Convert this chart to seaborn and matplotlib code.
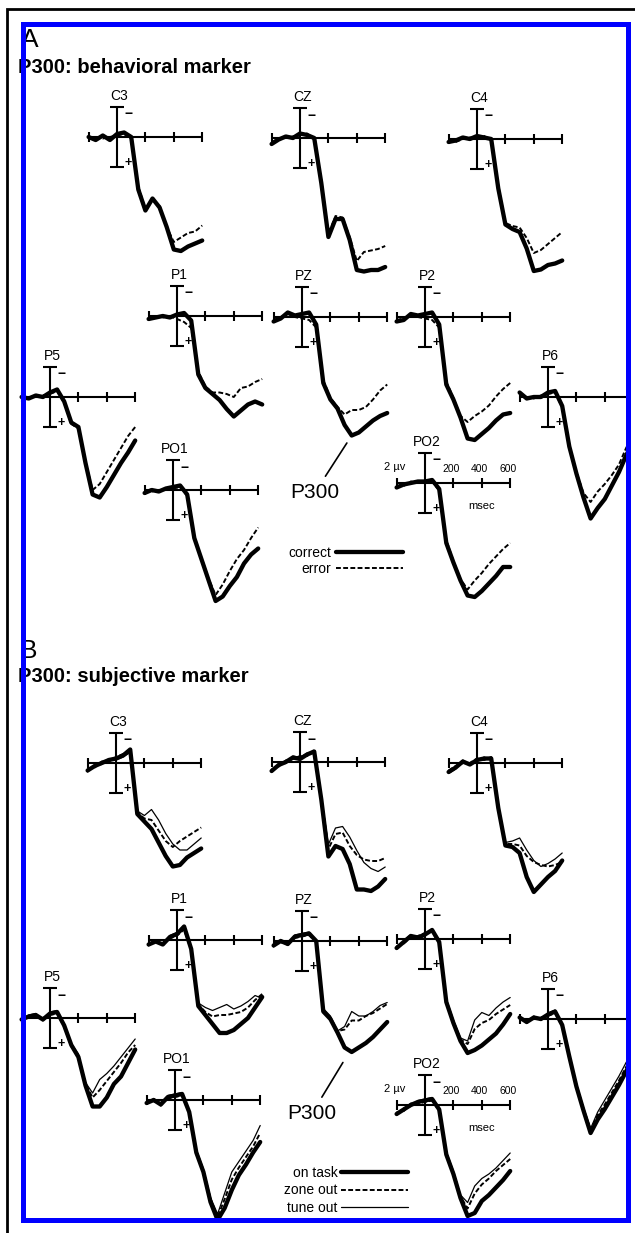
import matplotlib
matplotlib.use('Agg')
import matplotlib.pyplot as plt
from matplotlib.patches import Rectangle
import seaborn as sns

# time base of every ERP trace (ms) and the scale-cross ticks
TIME_MS = [-200, -150, -100, -50, 0, 50, 100, 150, 200, 250, 300, 350, 400, 450, 500, 550, 600]
AXIS_TICKS_MS = [-200, 200, 400, 600]
TICK_LABELS = ['200', '400', '600']
SCALE_UV = 2

ELECTRODES = ['C3', 'CZ', 'C4', 'P1', 'PZ', 'P2', 'P5', 'P6', 'PO1', 'PO2']

# panel A: behavioral marker (µV, positive plotted downward)
behav_correct = {
    'C3':  [0.0, 0.2, -0.1, 0.2, -0.2, -0.3, 0.0, 3.5, 4.9, 4.1, 4.7, 6.0, 7.5, 7.6, 7.3, 7.1, 6.9],
    'CZ':  [0.4, 0.1, -0.1, 0.0, -0.3, -0.2, 0.0, 3.0, 6.6, 5.4, 5.4, 6.8, 8.8, 8.9, 8.8, 8.8, 8.6],
    'C4':  [0.2, 0.1, -0.1, 0.0, -0.2, -0.1, 0.0, 3.3, 5.7, 6.0, 6.2, 7.3, 8.8, 8.7, 8.4, 8.3, 8.1],
    'P1':  [0.2, 0.1, 0.0, 0.1, -0.1, -0.2, 0.3, 3.9, 4.8, 5.2, 5.6, 6.2, 6.7, 6.3, 5.9, 5.7, 5.9],
    'PZ':  [0.3, 0.1, -0.3, -0.1, -0.2, -0.3, 0.5, 4.4, 5.5, 6.1, 7.2, 7.9, 7.7, 7.3, 6.9, 6.6, 6.4],
    'P2':  [0.3, 0.2, -0.2, -0.1, -0.2, -0.3, 0.5, 4.5, 5.5, 6.7, 8.1, 8.2, 7.8, 7.4, 6.9, 6.5, 6.4],
    'P5':  [0.0, 0.1, -0.1, 0.0, -0.3, -0.5, 0.3, 1.7, 2.0, 4.4, 6.5, 6.7, 6.0, 5.2, 4.4, 3.7, 2.9],
    'P6':  [-0.3, 0.1, 0.0, 0.0, -0.3, -0.4, 0.6, 3.3, 5.1, 6.7, 8.1, 7.4, 6.8, 5.9, 5.0, 3.9, 3.0],
    'PO1': [0.2, 0.0, 0.1, -0.1, -0.2, -0.3, 0.3, 3.2, 4.6, 6.0, 7.4, 7.1, 6.4, 5.8, 4.9, 4.3, 3.9],
    'PO2': [0.3, 0.1, 0.0, -0.1, -0.1, -0.2, 0.4, 4.0, 5.3, 6.5, 7.5, 7.6, 7.2, 6.7, 6.2, 5.6, 5.6],
}
behav_error = {
    'C3':  [0.1, 0.0, 0.1, 0.0, -0.1, -0.2, 0.1, 3.3, 4.8, 4.2, 4.6, 6.0, 7.0, 6.7, 6.4, 6.3, 5.9],
    'CZ':  [0.3, 0.0, 0.0, -0.1, -0.2, -0.3, 0.1, 2.8, 6.4, 5.2, 5.3, 6.6, 8.2, 7.6, 7.5, 7.4, 7.2],
    'C4':  [0.1, 0.2, 0.0, -0.1, -0.1, -0.2, 0.1, 3.1, 5.6, 5.8, 5.9, 6.6, 7.6, 7.4, 7.0, 6.6, 6.2],
    'P1':  [0.1, 0.0, 0.1, 0.0, 0.2, 0.4, 0.8, 3.7, 4.7, 5.1, 5.1, 5.2, 5.4, 4.8, 4.7, 4.4, 4.2],
    'PZ':  [0.2, 0.0, -0.2, 0.0, 0.1, 0.2, 0.7, 4.2, 5.4, 6.0, 6.5, 6.2, 6.2, 6.0, 5.5, 4.9, 4.5],
    'P2':  [0.2, 0.1, -0.1, 0.0, 0.1, 0.2, 0.7, 4.3, 5.4, 6.6, 7.0, 6.6, 6.3, 5.9, 5.3, 4.8, 4.4],
    'P5':  [0.1, 0.0, 0.0, -0.1, -0.2, -0.4, 0.4, 1.8, 2.1, 4.3, 6.2, 5.8, 5.0, 4.2, 3.4, 2.6, 2.0],
    'P6':  [-0.2, 0.0, 0.1, -0.1, -0.2, -0.3, 0.7, 3.2, 5.0, 6.4, 7.0, 6.3, 5.8, 5.2, 4.5, 3.4, 2.5],
    'PO1': [0.1, 0.1, 0.0, 0.0, -0.1, -0.2, 0.4, 3.1, 4.5, 5.9, 7.0, 6.3, 5.4, 4.6, 4.0, 3.2, 2.5],
    'PO2': [0.2, 0.2, -0.1, 0.0, 0.0, -0.1, 0.5, 3.8, 5.2, 6.4, 7.1, 6.5, 6.0, 5.4, 4.9, 4.4, 4.0],
}

# panel B: subjective marker
subj_on_task = {
    'C3':  [0.5, 0.2, 0.0, -0.2, -0.3, -0.5, -0.9, 3.4, 3.9, 4.4, 5.3, 6.2, 6.9, 6.8, 6.3, 6.0, 5.7],
    'CZ':  [0.6, 0.2, 0.0, -0.3, -0.2, -0.5, -0.7, 2.5, 6.3, 5.6, 5.8, 6.8, 8.5, 8.5, 8.6, 8.3, 7.8],
    'C4':  [0.6, 0.3, -0.1, 0.1, -0.2, -0.3, -0.3, 3.0, 5.5, 5.6, 6.0, 7.6, 8.6, 8.1, 7.6, 7.2, 6.5],
    'P1':  [0.3, 0.1, 0.3, -0.2, -0.4, -0.9, 0.6, 4.4, 5.0, 5.6, 6.2, 6.2, 6.0, 5.6, 5.2, 4.5, 3.8],
    'PZ':  [0.3, 0.0, 0.2, -0.3, -0.4, -0.5, 0.0, 4.7, 5.2, 6.1, 7.1, 7.4, 7.1, 6.8, 6.4, 5.9, 5.4],
    'P2':  [0.6, 0.2, -0.2, -0.1, -0.3, -0.6, 0.2, 4.2, 5.6, 6.8, 7.6, 7.4, 7.1, 6.7, 6.3, 5.7, 5.0],
    'P5':  [0.1, -0.1, -0.2, 0.1, -0.3, -0.4, 0.5, 1.8, 2.6, 4.5, 5.9, 5.9, 5.3, 4.4, 3.9, 3.0, 2.1],
    'P6':  [-0.1, 0.2, -0.1, 0.0, -0.3, -0.5, 0.4, 2.5, 4.5, 6.1, 7.6, 6.7, 6.0, 5.2, 4.4, 3.5, 2.6],
    'PO1': [0.2, 0.0, 0.3, -0.2, -0.3, -0.4, 0.8, 3.5, 4.8, 6.8, 8.0, 7.2, 6.0, 5.0, 4.3, 3.5, 2.8],
    'PO2': [0.6, 0.3, 0.0, -0.2, -0.3, -0.4, 0.3, 3.3, 4.6, 6.2, 7.4, 7.2, 6.4, 6.0, 5.5, 5.0, 4.4],
}
subj_zone_out = {
    'C3':  [0.4, 0.3, -0.1, -0.1, -0.4, -0.6, -0.8, 3.3, 3.7, 3.8, 4.5, 5.2, 5.6, 5.2, 4.9, 4.6, 4.3],
    'CZ':  [0.5, 0.3, -0.1, -0.2, -0.4, -0.4, -0.8, 2.4, 5.8, 4.8, 4.7, 5.6, 6.2, 6.5, 6.6, 6.6, 6.4],
    'C4':  [0.5, 0.2, 0.0, 0.0, -0.3, -0.2, -0.4, 2.9, 5.4, 5.4, 5.5, 6.2, 6.6, 6.8, 6.9, 6.8, 6.6],
    'P1':  [0.2, 0.2, 0.2, -0.1, -0.3, -0.7, 0.7, 4.3, 4.8, 5.1, 5.0, 5.0, 4.9, 4.8, 4.5, 4.0, 3.6],
    'PZ':  [0.2, 0.1, 0.1, -0.2, -0.3, -0.4, 0.1, 4.6, 5.1, 6.0, 5.9, 5.3, 5.3, 5.0, 4.8, 4.5, 4.2],
    'P2':  [0.5, 0.3, -0.1, -0.2, -0.4, -0.5, 0.3, 4.1, 5.5, 6.7, 7.0, 6.0, 5.6, 5.4, 5.0, 4.7, 4.4],
    'P5':  [0.0, 0.0, -0.1, 0.0, -0.2, -0.3, 0.6, 1.9, 2.5, 4.4, 5.3, 4.8, 4.2, 3.6, 3.0, 2.3, 1.8],
    'P6':  [0.0, 0.1, 0.0, -0.1, -0.2, -0.4, 0.5, 2.6, 4.4, 6.0, 7.4, 6.4, 5.7, 4.9, 4.1, 3.2, 2.4],
    'PO1': [0.1, 0.1, 0.2, -0.1, -0.2, -0.3, 0.9, 3.4, 4.7, 6.6, 7.8, 6.6, 5.3, 4.5, 3.8, 3.1, 2.2],
    'PO2': [0.5, 0.4, -0.1, -0.1, -0.2, -0.3, 0.4, 3.2, 4.5, 6.1, 6.9, 5.9, 5.3, 4.9, 4.4, 4.0, 3.6],
}
subj_tune_out = {
    'C3':  [0.6, 0.1, 0.1, -0.3, -0.2, -0.4, -0.7, 3.2, 3.5, 3.1, 3.8, 4.7, 5.4, 5.8, 5.8, 5.4, 5.0],
    'CZ':  [0.7, 0.1, 0.1, -0.4, -0.3, -0.6, -0.6, 2.3, 5.5, 4.4, 4.3, 5.0, 5.9, 6.7, 7.1, 7.3, 7.0],
    'C4':  [0.7, 0.4, -0.2, 0.1, -0.1, -0.4, -0.2, 2.8, 5.3, 5.2, 5.0, 5.8, 6.5, 6.9, 6.7, 6.4, 6.0],
    'P1':  [0.4, 0.0, 0.3, -0.3, -0.5, -0.8, 0.5, 4.2, 4.5, 4.7, 4.5, 4.3, 4.6, 4.4, 4.1, 3.7, 3.9],
    'PZ':  [0.4, -0.1, 0.3, -0.4, -0.5, -0.6, 0.0, 4.5, 5.0, 6.0, 5.7, 4.7, 5.0, 5.0, 4.7, 4.3, 4.1],
    'P2':  [0.7, 0.1, -0.3, 0.0, -0.2, -0.7, 0.1, 4.0, 5.4, 6.6, 6.8, 5.4, 4.9, 5.1, 4.6, 4.2, 3.9],
    'P5':  [0.2, -0.2, -0.3, 0.2, -0.4, -0.5, 0.4, 1.7, 2.4, 4.3, 5.0, 4.1, 3.7, 3.2, 2.6, 2.0, 1.4],
    'P6':  [-0.2, 0.3, -0.2, 0.1, -0.4, -0.6, 0.3, 2.4, 4.3, 5.9, 7.3, 6.2, 5.4, 4.6, 3.8, 2.9, 2.1],
    'PO1': [0.3, -0.1, 0.4, -0.3, -0.4, -0.5, 0.7, 3.3, 4.6, 6.5, 7.6, 6.2, 4.8, 4.1, 3.4, 2.7, 1.7],
    'PO2': [0.7, 0.2, 0.1, -0.3, -0.4, -0.5, 0.2, 3.1, 4.4, 6.0, 6.5, 5.4, 4.9, 4.6, 4.2, 3.7, 3.2],
}

# ---- layout (pixels of the 635x1233 canvas) ----
W, H = 635, 1233
PX_MS = 0.142      # pixels per ms
PX_UV = 15.0       # pixels per µV
XLIM = (-230, 640)
YLIM = (12, -3.5)  # negative up

# origin (0 ms, 0 µV) of each electrode in pixels
origin_a = {'C3': (117, 137), 'CZ': (300, 138), 'C4': (477, 139),
            'P1': (177, 316), 'PZ': (302, 317), 'P2': (425, 317),
            'P5': (50, 397), 'P6': (548, 397),
            'PO1': (173, 490), 'PO2': (425, 483)}
origin_b = {'C3': (116, 763), 'CZ': (300, 762), 'C4': (477, 763),
            'P1': (177, 940), 'PZ': (302, 941), 'P2': (425, 939),
            'P5': (50, 1018), 'P6': (548, 1019),
            'PO1': (175, 1100), 'PO2': (425, 1105)}

THICK = dict(color='black', linewidth=3.1)
DASH = dict(color='black', linewidth=1.4, linestyle=(0, (2.5, 1.2)))
THIN = dict(color='black', linewidth=0.9)
AX_LW = 1.5

sns.set_style('white')
plt.rcParams['font.family'] = ['Liberation Sans', 'DejaVu Sans']
plt.rcParams['text.color'] = 'black'

fig = plt.figure(figsize=(W / 100, H / 100), dpi=100)
fig.patch.set_facecolor('white')


def fx(x):
    return x / W


def fy(y):
    return 1 - y / H


def electrode_axes(x0, y0):
    left = x0 + XLIM[0] * PX_MS
    top = y0 + YLIM[1] * PX_UV
    w = (XLIM[1] - XLIM[0]) * PX_MS
    h = (YLIM[0] - YLIM[1]) * PX_UV
    ax = fig.add_axes([left / W, 1 - (top + h) / H, w / W, h / H])
    ax.set_axis_off()
    return ax


def draw_cross(ax, name):
    ax.hlines(0, AXIS_TICKS_MS[0], AXIS_TICKS_MS[-1], color='k', lw=AX_LW)
    ax.vlines(AXIS_TICKS_MS, -0.33, 0.33, color='k', lw=AX_LW)
    ax.vlines(0, -SCALE_UV, SCALE_UV, color='k', lw=AX_LW)
    ax.hlines([-SCALE_UV, SCALE_UV], -50, 50, color='k', lw=AX_LW)
    ax.text(82, -1.5, '\u2212', ha='center', va='center', fontsize=10, fontweight='bold')
    ax.text(78, 1.75, '+', ha='center', va='center', fontsize=9, fontweight='bold')
    ax.text(15, -2.25, name, ha='center', va='bottom', fontsize=10)


def scale_labels(ax):
    ax.text(-210, -1.1, '2 \u00b5v', ha='center', va='center', fontsize=8)
    for t, lab in zip(AXIS_TICKS_MS[1:], TICK_LABELS):
        ax.text(t - 15, -0.95, lab, ha='center', va='center', fontsize=7.5)
    ax.text(400, 1.55, 'msec', ha='center', va='center', fontsize=8)


def finish(ax):
    ax.set_xlim(*XLIM)
    ax.set_ylim(*YLIM)
    ax.set_axis_off()


# ---- panel A ----
handles_a = []
for name in ELECTRODES:
    ax = electrode_axes(*origin_a[name])
    draw_cross(ax, name)
    sns.lineplot(x=TIME_MS, y=behav_error[name], ax=ax, legend=False, **DASH)
    err_line = ax.lines[-1]
    sns.lineplot(x=TIME_MS, y=behav_correct[name], ax=ax, legend=False, **THICK)
    cor_line = ax.lines[-1]
    finish(ax)
    if name == 'PZ':
        ax.annotate('P300', xy=(316, 8.4), xytext=(91, 11.7), ha='center', va='center',
                    fontsize=15, arrowprops=dict(arrowstyle='-', color='k', lw=1.2,
                                                 shrinkA=3, shrinkB=0))
    if name == 'PO2':
        scale_labels(ax)
        handles_a = [cor_line, err_line]

fig.legend(handles_a, ['correct', 'error'], loc='upper right',
           bbox_to_anchor=(fx(403), fy(546)), markerfirst=False, frameon=False,
           fontsize=10, handlelength=4.8, handletextpad=0.35, labelspacing=0.15,
           borderpad=0, borderaxespad=0)

# ---- panel B ----
handles_b = []
for name in ELECTRODES:
    ax = electrode_axes(*origin_b[name])
    draw_cross(ax, name)
    sns.lineplot(x=TIME_MS, y=subj_tune_out[name], ax=ax, legend=False, **THIN)
    tune_line = ax.lines[-1]
    sns.lineplot(x=TIME_MS, y=subj_zone_out[name], ax=ax, legend=False, **DASH)
    zone_line = ax.lines[-1]
    sns.lineplot(x=TIME_MS, y=subj_on_task[name], ax=ax, legend=False, **THICK)
    on_line = ax.lines[-1]
    finish(ax)
    if name == 'PZ':
        ax.annotate('P300', xy=(288, 8.1), xytext=(70, 11.5), ha='center', va='center',
                    fontsize=15, arrowprops=dict(arrowstyle='-', color='k', lw=1.2,
                                                 shrinkA=3, shrinkB=0))
    if name == 'PO2':
        scale_labels(ax)
        handles_b = [on_line, zone_line, tune_line]

fig.legend(handles_b, ['on task', 'zone out', 'tune out'], loc='upper right',
           bbox_to_anchor=(fx(408), fy(1166)), markerfirst=False, frameon=False,
           fontsize=10, handlelength=4.8, handletextpad=0.25, labelspacing=0.25,
           borderpad=0, borderaxespad=0)

# ---- headings ----
fig.text(fx(21), fy(47), 'A', fontsize=19, va='baseline')
fig.text(fx(18), fy(73), 'P300: behavioral marker', fontsize=14.5, fontweight='bold', va='baseline')
fig.text(fx(20), fy(658), 'B', fontsize=19, va='baseline')
fig.text(fx(18), fy(682), 'P300: subjective marker', fontsize=14.5, fontweight='bold', va='baseline')

# ---- frames ----
fig.patches.append(Rectangle((fx(631), 0), 1 - fx(631), 1, transform=fig.transFigure,
                             facecolor='white', edgecolor='none', zorder=5))
fig.patches.append(Rectangle((fx(22.5), fy(1219.5)), fx(628.5) - fx(22.5), fy(24) - fy(1219.5),
                             transform=fig.transFigure, fill=False, edgecolor='#0000ff',
                             linewidth=3.6, zorder=6))
fig.patches.append(Rectangle((fx(6.5), fy(1300)), fx(700), fy(8.5) - fy(1300),
                             transform=fig.transFigure, fill=False, edgecolor='black',
                             linewidth=2.0, zorder=6))

fig.savefig('out.png', dpi=100, facecolor='white')
